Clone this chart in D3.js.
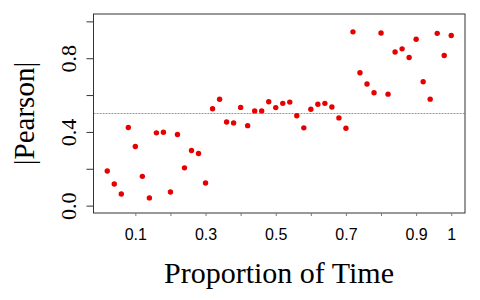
<!DOCTYPE html>
<html>
<head>
<meta charset="utf-8">
<script src="https://cdn.jsdelivr.net/npm/d3@7"></script>
<style>
  html, body { margin: 0; padding: 0; background: #fff; }
  svg { display: block; }
</style>
</head>
<body>
<svg id="chart" width="480" height="300"></svg>
<script>
const proportion = [0.02,0.04,0.06,0.08,0.10,0.12,0.14,0.16,0.18,0.20,
                    0.22,0.24,0.26,0.28,0.30,0.32,0.34,0.36,0.38,0.40,
                    0.42,0.44,0.46,0.48,0.50,0.52,0.54,0.56,0.58,0.60,
                    0.62,0.64,0.66,0.68,0.70,0.72,0.74,0.76,0.78,0.80,
                    0.82,0.84,0.86,0.88,0.90,0.92,0.94,0.96,0.98,1.00];
const pearson = [0.188,0.117,0.063,0.424,0.321,0.159,0.042,0.395,0.398,0.074,
                 0.386,0.205,0.299,0.283,0.123,0.526,0.577,0.454,0.449,0.533,
                 0.434,0.514,0.514,0.564,0.532,0.555,0.562,0.488,0.422,0.523,
                 0.550,0.555,0.535,0.476,0.420,0.943,0.721,0.660,0.613,0.937,
                 0.605,0.834,0.851,0.804,0.903,0.672,0.578,0.935,0.815,0.923];
const xTicks = [0.1,0.2,0.3,0.4,0.5,0.6,0.7,0.8,0.9,1.0];
const xTickLabels = ["0.1","","0.3","","0.5","","0.7","","0.9","1"];
const yTicks = [0.0,0.2,0.4,0.6,0.8,1.0];
const yTickLabels = ["0.0","","0.4","","0.8",""];
const refLine = 0.5;
const xTitle = "Proportion of Time";
const yTitle = "|Pearson|";

(function () {
const svg = d3.select("#chart");
const mLeft = 93.5, mRight = 465, mTop = 14, mBottom = 213;

const x = d3.scaleLinear().domain([-0.0192, 1.0392]).range([mLeft, mRight]);
const y = d3.scaleLinear().domain([-0.04, 1.04]).range([mBottom, mTop]);

// reference line
svg.append("line")
  .attr("x1", mLeft).attr("x2", mRight)
  .attr("y1", y(refLine)).attr("y2", y(refLine))
  .attr("stroke", "#999").attr("stroke-width", 1.2)
  .attr("stroke-dasharray", "2,1");

// points
svg.append("g").selectAll("circle")
  .data(proportion.map((p, i) => [p, pearson[i]]))
  .join("circle")
  .attr("cx", d => x(d[0]))
  .attr("cy", d => y(d[1]))
  .attr("r", 2.7)
  .attr("fill", "#e60000");

// box
svg.append("rect")
  .attr("x", mLeft).attr("y", mTop)
  .attr("width", mRight - mLeft).attr("height", mBottom - mTop)
  .attr("fill", "none").attr("stroke", "#333").attr("stroke-width", 1);

// x axis
const xAxis = d3.axisBottom(x).tickValues(xTicks)
  .tickSize(3).tickPadding(0)
  .tickFormat((d, i) => xTickLabels[i]);
const gx = svg.append("g").attr("transform", `translate(0,${mBottom})`).call(xAxis);
gx.select(".domain").remove();
gx.selectAll(".tick line").attr("stroke", "#777");
gx.selectAll(".tick text")
  .attr("dy", null).attr("y", 27)
  .attr("font-family", "'Liberation Sans', Arial, sans-serif")
  .attr("font-size", 16).attr("fill", "#000");

// y axis
const yAxis = d3.axisLeft(y).tickValues(yTicks)
  .tickSize(7).tickPadding(0)
  .tickFormat((d, i) => yTickLabels[i]);
const gy = svg.append("g").attr("transform", `translate(${mLeft},0)`).call(yAxis);
gy.select(".domain").remove();
gy.selectAll(".tick line").attr("stroke", "#333");
gy.selectAll(".tick text")
  .attr("x", null).attr("dy", null)
  .attr("text-anchor", "middle")
  .attr("transform", "translate(-18,0) rotate(-90)")
  .attr("font-family", "'Liberation Serif', 'Times New Roman', serif")
  .attr("font-size", 22).attr("fill", "#000");

// titles
svg.append("text")
  .attr("x", 279).attr("y", 283)
  .attr("text-anchor", "middle")
  .attr("font-family", "'Liberation Serif', 'Times New Roman', serif")
  .attr("font-size", 30).attr("fill", "#000")
  .text(xTitle);

svg.append("text")
  .attr("transform", "translate(34,113.5) rotate(-90)")
  .attr("text-anchor", "middle")
  .attr("font-family", "'Liberation Serif', 'Times New Roman', serif")
  .attr("font-size", 29).attr("fill", "#000")
  .text(yTitle);
})();
</script>
</body>
</html>
